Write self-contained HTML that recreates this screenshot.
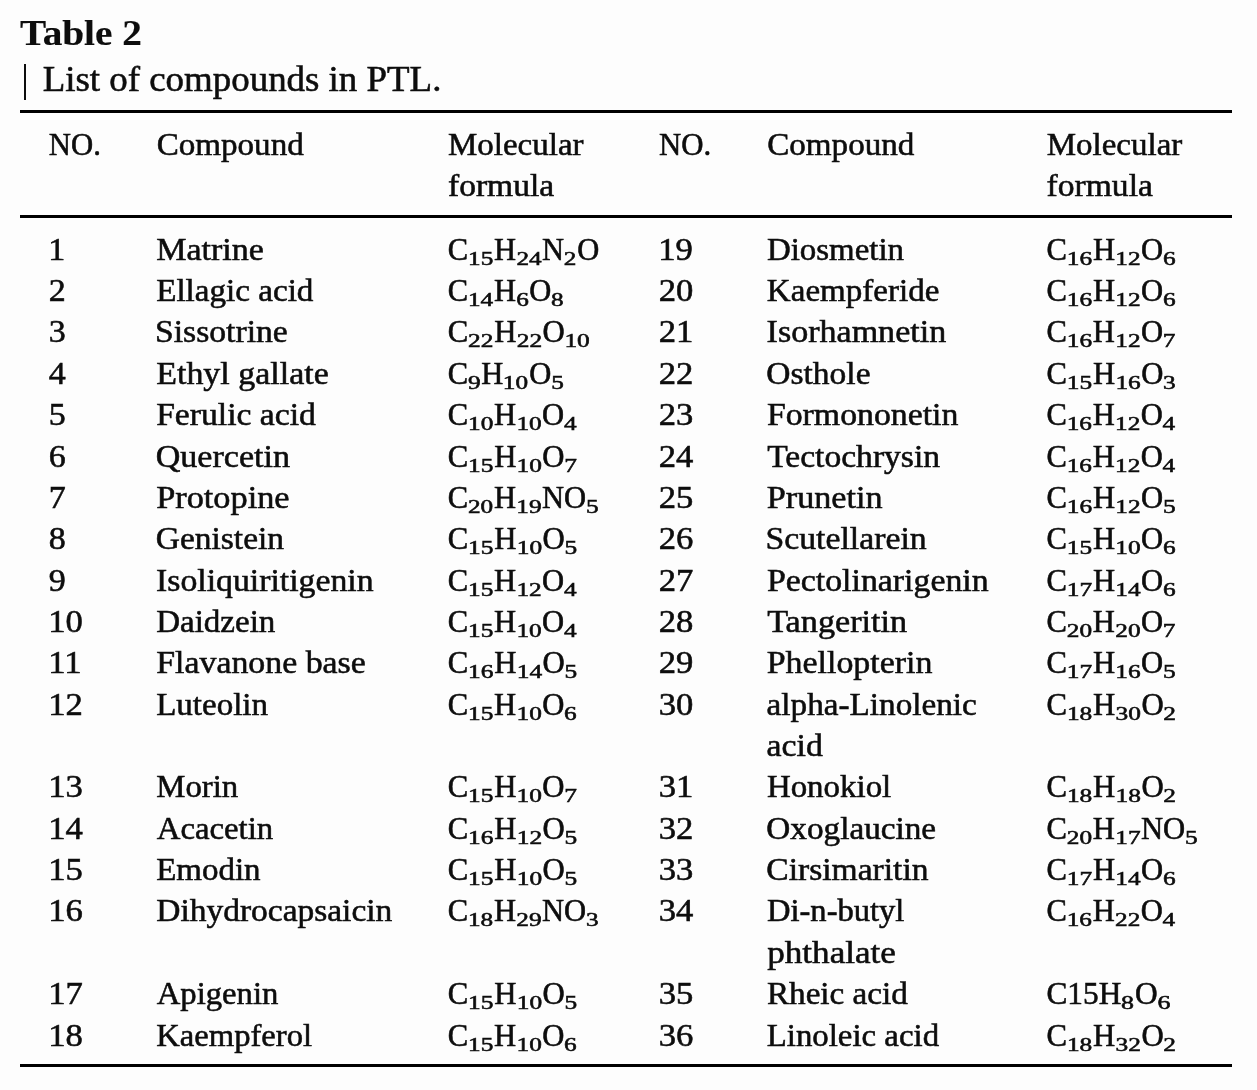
<!DOCTYPE html>
<html lang="en"><head><meta charset="utf-8"><title>Table 2 - List of compounds in PTL</title>
<style>
html,body{margin:0;padding:0;background:#fdfdfc;}
body{filter:grayscale(1);width:1257px;height:1090px;overflow:hidden;position:relative;font-family:"Liberation Serif",serif;color:#0d0d0d;}
.t{display:block;width:max-content;white-space:nowrap;transform-origin:0 50%;-webkit-text-stroke:0.55px #0d0d0d;}
.cap{position:absolute;font-size:35px;line-height:46px;}
.b{font-weight:bold;-webkit-text-stroke:0.15px #0d0d0d;}
#cap1{left:0;top:10.75px;}
#cap2{left:0;top:56.85px;}
#bar{position:absolute;left:24.4px;top:64.2px;width:2.1px;height:35.5px;background:#0d0d0d;}
table{position:absolute;left:20px;top:110px;width:1212px;border-collapse:collapse;table-layout:fixed;
  font-size:31.6px;line-height:41.36px;border-top:3px solid #000;border-bottom:3px solid #000;}
td,th{padding:0;margin:0;vertical-align:top;text-align:left;font-weight:normal;overflow:visible;}
thead th{padding-top:10.55px;padding-bottom:9.23px;border-bottom:3px solid #000;}
tbody tr:first-child td{padding-top:10.25px;}
tbody tr:last-child td{padding-bottom:8.55px;}
sub{display:inline-block;font-size:19.2px;line-height:0;vertical-align:baseline;position:relative;top:5.0px;transform:scaleX(1.36);transform-origin:0 50%;margin-left:-0.2px;}
.s1{margin-right:4.36px;}
.s2{margin-right:7.81px;}
</style></head>
<body>
<span id="cap1" class="t cap b" style="transform:matrix(1.1218,0,0,1,20.07,0)">Table 2</span>
<div id="bar"></div>
<span id="cap2" class="t cap" style="transform:matrix(1.0544,0,0,1,42.63,0)">List of compounds in PTL.</span>
<table>
<colgroup><col style="width:136.5px"><col style="width:291.8px"><col style="width:211.5px"><col style="width:107.3px"><col style="width:279.9px"><col style="width:185.0px"></colgroup>
<thead><tr><th><span id="h1" class="t" style="transform:matrix(0.9722,0,0,1,28.86,0)">NO.</span></th><th><span id="h2" class="t" style="transform:matrix(1.0475,0,0,1,-0.35,0)">Compound</span></th><th><span id="h3a" class="t" style="transform:matrix(1.0442,0,0,1,-0.04,0)">Molecular</span><span id="h3b" class="t" style="transform:matrix(1.0612,0,0,1,0.03,0)">formula</span></th><th><span id="h4" class="t" style="transform:matrix(0.9742,0,0,1,-1.06,0)">NO.</span></th><th><span id="h5" class="t" style="transform:matrix(1.0483,0,0,1,0.19,0)">Compound</span></th><th><span id="h6a" class="t" style="transform:matrix(1.0443,0,0,1,-0.32,0)">Molecular</span><span id="h6b" class="t" style="transform:matrix(1.0628,0,0,1,-0.40,0)">formula</span></th></tr></thead>
<tbody>
<tr><td><span id="r0n1" class="t" style="transform:matrix(1.0759,0,0,1,28.26,0)">1</span></td><td><span id="r0c1" class="t" style="transform:matrix(1.0774,0,0,1,-0.80,0)">Matrine</span></td><td><span id="r0f1" class="t f" style="transform:matrix(0.9663,0,0,1,-0.21,0)">C<sub class="s2">15</sub>H<sub class="s2">24</sub>N<sub class="s1">2</sub>O</span></td><td><span id="r0n2" class="t" style="transform:matrix(1.0970,0,0,1,-1.86,0)">19</span></td><td><span id="r0c2" class="t" style="transform:matrix(1.0423,0,0,1,-0.12,0)">Diosmetin</span></td><td><span id="r0f2" class="t f" style="transform:matrix(0.9702,0,0,1,-0.54,0)">C<sub class="s2">16</sub>H<sub class="s2">12</sub>O<sub class="s1">6</sub></span></td></tr>
<tr><td><span id="r1n1" class="t" style="transform:matrix(1.0759,0,0,1,28.86,0)">2</span></td><td><span id="r1c1" class="t" style="transform:matrix(1.0484,0,0,1,-0.84,0)">Ellagic acid</span></td><td><span id="r1f1" class="t f" style="transform:matrix(0.9656,0,0,1,-0.31,0)">C<sub class="s2">14</sub>H<sub class="s1">6</sub>O<sub class="s1">8</sub></span></td><td><span id="r1n2" class="t" style="transform:matrix(1.0970,0,0,1,-1.27,0)">20</span></td><td><span id="r1c2" class="t" style="transform:matrix(1.0462,0,0,1,-0.13,0)">Kaempferide</span></td><td><span id="r1f2" class="t f" style="transform:matrix(0.9702,0,0,1,-0.54,0)">C<sub class="s2">16</sub>H<sub class="s2">12</sub>O<sub class="s1">6</sub></span></td></tr>
<tr><td><span id="r2n1" class="t" style="transform:matrix(1.0759,0,0,1,28.86,0)">3</span></td><td><span id="r2c1" class="t" style="transform:matrix(1.0656,0,0,1,-2.01,0)">Sissotrine</span></td><td><span id="r2f1" class="t f" style="transform:matrix(0.9729,0,0,1,-0.37,0)">C<sub class="s2">22</sub>H<sub class="s2">22</sub>O<sub class="s2">10</sub></span></td><td><span id="r2n2" class="t" style="transform:matrix(1.0970,0,0,1,-1.27,0)">21</span></td><td><span id="r2c2" class="t" style="transform:matrix(1.0775,0,0,1,-0.43,0)">Isorhamnetin</span></td><td><span id="r2f2" class="t f" style="transform:matrix(0.9686,0,0,1,-0.53,0)">C<sub class="s2">16</sub>H<sub class="s2">12</sub>O<sub class="s1">7</sub></span></td></tr>
<tr><td><span id="r3n1" class="t" style="transform:matrix(1.0759,0,0,1,28.86,0)">4</span></td><td><span id="r3c1" class="t" style="transform:matrix(1.0747,0,0,1,-0.78,0)">Ethyl gallate</span></td><td><span id="r3f1" class="t f" style="transform:matrix(0.9669,0,0,1,-0.32,0)">C<sub class="s1">9</sub>H<sub class="s2">10</sub>O<sub class="s1">5</sub></span></td><td><span id="r3n2" class="t" style="transform:matrix(1.0970,0,0,1,-1.27,0)">22</span></td><td><span id="r3c2" class="t" style="transform:matrix(1.0599,0,0,1,-0.67,0)">Osthole</span></td><td><span id="r3f2" class="t f" style="transform:matrix(0.9711,0,0,1,-0.55,0)">C<sub class="s2">15</sub>H<sub class="s2">16</sub>O<sub class="s1">3</sub></span></td></tr>
<tr><td><span id="r4n1" class="t" style="transform:matrix(1.0759,0,0,1,28.86,0)">5</span></td><td><span id="r4c1" class="t" style="transform:matrix(1.0651,0,0,1,-0.86,0)">Ferulic acid</span></td><td><span id="r4f1" class="t f" style="transform:matrix(0.9685,0,0,1,-0.34,0)">C<sub class="s2">10</sub>H<sub class="s2">10</sub>O<sub class="s1">4</sub></span></td><td><span id="r4n2" class="t" style="transform:matrix(1.0970,0,0,1,-1.27,0)">23</span></td><td><span id="r4c2" class="t" style="transform:matrix(1.0694,0,0,1,-0.06,0)">Formononetin</span></td><td><span id="r4f2" class="t f" style="transform:matrix(0.9666,0,0,1,-0.54,0)">C<sub class="s2">16</sub>H<sub class="s2">12</sub>O<sub class="s1">4</sub></span></td></tr>
<tr><td><span id="r5n1" class="t" style="transform:matrix(1.0759,0,0,1,28.86,0)">6</span></td><td><span id="r5c1" class="t" style="transform:matrix(1.0778,0,0,1,-1.27,0)">Quercetin</span></td><td><span id="r5f1" class="t f" style="transform:matrix(0.9712,0,0,1,-0.36,0)">C<sub class="s2">15</sub>H<sub class="s2">10</sub>O<sub class="s1">7</sub></span></td><td><span id="r5n2" class="t" style="transform:matrix(1.0970,0,0,1,-1.27,0)">24</span></td><td><span id="r5c2" class="t" style="transform:matrix(1.0626,0,0,1,0.14,0)">Tectochrysin</span></td><td><span id="r5f2" class="t f" style="transform:matrix(0.9666,0,0,1,-0.54,0)">C<sub class="s2">16</sub>H<sub class="s2">12</sub>O<sub class="s1">4</sub></span></td></tr>
<tr><td><span id="r6n1" class="t" style="transform:matrix(1.0759,0,0,1,28.86,0)">7</span></td><td><span id="r6c1" class="t" style="transform:matrix(1.0861,0,0,1,-0.86,0)">Protopine</span></td><td><span id="r6f1" class="t f" style="transform:matrix(0.9670,0,0,1,-0.35,0)">C<sub class="s2">20</sub>H<sub class="s2">19</sub>NO<sub class="s1">5</sub></span></td><td><span id="r6n2" class="t" style="transform:matrix(1.0970,0,0,1,-1.27,0)">25</span></td><td><span id="r6c2" class="t" style="transform:matrix(1.0806,0,0,1,-0.19,0)">Prunetin</span></td><td><span id="r6f2" class="t f" style="transform:matrix(0.9706,0,0,1,-0.55,0)">C<sub class="s2">16</sub>H<sub class="s2">12</sub>O<sub class="s1">5</sub></span></td></tr>
<tr><td><span id="r7n1" class="t" style="transform:matrix(1.0759,0,0,1,28.86,0)">8</span></td><td><span id="r7c1" class="t" style="transform:matrix(1.0590,0,0,1,-1.22,0)">Genistein</span></td><td><span id="r7f1" class="t f" style="transform:matrix(0.9731,0,0,1,-0.37,0)">C<sub class="s2">15</sub>H<sub class="s2">10</sub>O<sub class="s1">5</sub></span></td><td><span id="r7n2" class="t" style="transform:matrix(1.0970,0,0,1,-1.27,0)">26</span></td><td><span id="r7c2" class="t" style="transform:matrix(1.0683,0,0,1,-1.52,0)">Scutellarein</span></td><td><span id="r7f2" class="t f" style="transform:matrix(0.9702,0,0,1,-0.54,0)">C<sub class="s2">15</sub>H<sub class="s2">10</sub>O<sub class="s1">6</sub></span></td></tr>
<tr><td><span id="r8n1" class="t" style="transform:matrix(1.0759,0,0,1,28.86,0)">9</span></td><td><span id="r8c1" class="t" style="transform:matrix(1.0682,0,0,1,-0.95,0)">Isoliquiritigenin</span></td><td><span id="r8f1" class="t f" style="transform:matrix(0.9685,0,0,1,-0.34,0)">C<sub class="s2">15</sub>H<sub class="s2">12</sub>O<sub class="s1">4</sub></span></td><td><span id="r8n2" class="t" style="transform:matrix(1.0970,0,0,1,-1.27,0)">27</span></td><td><span id="r8c2" class="t" style="transform:matrix(1.0707,0,0,1,-0.06,0)">Pectolinarigenin</span></td><td><span id="r8f2" class="t f" style="transform:matrix(0.9702,0,0,1,-0.54,0)">C<sub class="s2">17</sub>H<sub class="s2">14</sub>O<sub class="s1">6</sub></span></td></tr>
<tr><td><span id="r9n1" class="t" style="transform:matrix(1.0970,0,0,1,28.13,0)">10</span></td><td><span id="r9c1" class="t" style="transform:matrix(1.0451,0,0,1,-0.81,0)">Daidzein</span></td><td><span id="r9f1" class="t f" style="transform:matrix(0.9685,0,0,1,-0.34,0)">C<sub class="s2">15</sub>H<sub class="s2">10</sub>O<sub class="s1">4</sub></span></td><td><span id="r9n2" class="t" style="transform:matrix(1.0970,0,0,1,-1.27,0)">28</span></td><td><span id="r9c2" class="t" style="transform:matrix(1.0818,0,0,1,0.13,0)">Tangeritin</span></td><td><span id="r9f2" class="t f" style="transform:matrix(0.9686,0,0,1,-0.53,0)">C<sub class="s2">20</sub>H<sub class="s2">20</sub>O<sub class="s1">7</sub></span></td></tr>
<tr><td><span id="r10n1" class="t" style="transform:matrix(1.0970,0,0,1,28.13,0)">11</span></td><td><span id="r10c1" class="t" style="transform:matrix(1.0709,0,0,1,-0.75,0)">Flavanone base</span></td><td><span id="r10f1" class="t f" style="transform:matrix(0.9731,0,0,1,-0.37,0)">C<sub class="s2">16</sub>H<sub class="s2">14</sub>O<sub class="s1">5</sub></span></td><td><span id="r10n2" class="t" style="transform:matrix(1.0970,0,0,1,-1.27,0)">29</span></td><td><span id="r10c2" class="t" style="transform:matrix(1.0735,0,0,1,-0.32,0)">Phellopterin</span></td><td><span id="r10f2" class="t f" style="transform:matrix(0.9706,0,0,1,-0.55,0)">C<sub class="s2">17</sub>H<sub class="s2">16</sub>O<sub class="s1">5</sub></span></td></tr>
<tr><td><span id="r11n1" class="t" style="transform:matrix(1.0970,0,0,1,28.13,0)">12</span></td><td><span id="r11c1" class="t" style="transform:matrix(1.0445,0,0,1,-0.81,0)">Luteolin</span></td><td><span id="r11f1" class="t f" style="transform:matrix(0.9697,0,0,1,-0.36,0)">C<sub class="s2">15</sub>H<sub class="s2">10</sub>O<sub class="s1">6</sub></span></td><td><span id="r11n2" class="t" style="transform:matrix(1.0970,0,0,1,-1.27,0)">30</span></td><td><span id="r11c2" class="t" style="transform:matrix(1.0512,0,0,1,-0.43,0)">alpha-Linolenic</span><span id="r12c2" class="t" style="transform:matrix(1.0695,0,0,1,-0.47,0)">acid</span></td><td><span id="r11f2" class="t f" style="transform:matrix(0.9739,0,0,1,-0.55,0)">C<sub class="s2">18</sub>H<sub class="s2">30</sub>O<sub class="s1">2</sub></span></td></tr>
<tr><td><span id="r13n1" class="t" style="transform:matrix(1.0970,0,0,1,28.14,0)">13</span></td><td><span id="r13c1" class="t" style="transform:matrix(1.0383,0,0,1,-0.75,0)">Morin</span></td><td><span id="r13f1" class="t f" style="transform:matrix(0.9712,0,0,1,-0.36,0)">C<sub class="s2">15</sub>H<sub class="s2">10</sub>O<sub class="s1">7</sub></span></td><td><span id="r13n2" class="t" style="transform:matrix(1.0970,0,0,1,-1.27,0)">31</span></td><td><span id="r13c2" class="t" style="transform:matrix(1.0418,0,0,1,-0.11,0)">Honokiol</span></td><td><span id="r13f2" class="t f" style="transform:matrix(0.9739,0,0,1,-0.55,0)">C<sub class="s2">18</sub>H<sub class="s2">18</sub>O<sub class="s1">2</sub></span></td></tr>
<tr><td><span id="r14n1" class="t" style="transform:matrix(1.0970,0,0,1,28.14,0)">14</span></td><td><span id="r14c1" class="t" style="transform:matrix(1.0368,0,0,1,-0.25,0)">Acacetin</span></td><td><span id="r14f1" class="t f" style="transform:matrix(0.9731,0,0,1,-0.37,0)">C<sub class="s2">16</sub>H<sub class="s2">12</sub>O<sub class="s1">5</sub></span></td><td><span id="r14n2" class="t" style="transform:matrix(1.0970,0,0,1,-1.27,0)">32</span></td><td><span id="r14c2" class="t" style="transform:matrix(1.0516,0,0,1,-0.66,0)">Oxoglaucine</span></td><td><span id="r14f2" class="t f" style="transform:matrix(0.9693,0,0,1,-0.54,0)">C<sub class="s2">20</sub>H<sub class="s2">17</sub>NO<sub class="s1">5</sub></span></td></tr>
<tr><td><span id="r15n1" class="t" style="transform:matrix(1.0970,0,0,1,28.14,0)">15</span></td><td><span id="r15c1" class="t" style="transform:matrix(1.0435,0,0,1,-0.81,0)">Emodin</span></td><td><span id="r15f1" class="t f" style="transform:matrix(0.9731,0,0,1,-0.37,0)">C<sub class="s2">15</sub>H<sub class="s2">10</sub>O<sub class="s1">5</sub></span></td><td><span id="r15n2" class="t" style="transform:matrix(1.0970,0,0,1,-1.27,0)">33</span></td><td><span id="r15c2" class="t" style="transform:matrix(1.0623,0,0,1,-0.67,0)">Cirsimaritin</span></td><td><span id="r15f2" class="t f" style="transform:matrix(0.9702,0,0,1,-0.54,0)">C<sub class="s2">17</sub>H<sub class="s2">14</sub>O<sub class="s1">6</sub></span></td></tr>
<tr><td><span id="r16n1" class="t" style="transform:matrix(1.0970,0,0,1,28.13,0)">16</span></td><td><span id="r16c1" class="t" style="transform:matrix(1.0594,0,0,1,-0.78,0)">Dihydrocapsaicin</span></td><td><span id="r16f1" class="t f" style="transform:matrix(0.9674,0,0,1,-0.35,0)">C<sub class="s2">18</sub>H<sub class="s2">29</sub>NO<sub class="s1">3</sub></span></td><td><span id="r16n2" class="t" style="transform:matrix(1.0970,0,0,1,-1.27,0)">34</span></td><td><span id="r16c2" class="t" style="transform:matrix(1.0306,0,0,1,-0.05,0)">Di-n-butyl</span><span id="r17c2" class="t" style="transform:matrix(1.1121,0,0,1,0.17,0)">phthalate</span></td><td><span id="r16f2" class="t f" style="transform:matrix(0.9666,0,0,1,-0.54,0)">C<sub class="s2">16</sub>H<sub class="s2">22</sub>O<sub class="s1">4</sub></span></td></tr>
<tr><td><span id="r18n1" class="t" style="transform:matrix(1.0970,0,0,1,28.14,0)">17</span></td><td><span id="r18c1" class="t" style="transform:matrix(1.0339,0,0,1,-0.24,0)">Apigenin</span></td><td><span id="r18f1" class="t f" style="transform:matrix(0.9731,0,0,1,-0.37,0)">C<sub class="s2">15</sub>H<sub class="s2">10</sub>O<sub class="s1">5</sub></span></td><td><span id="r18n2" class="t" style="transform:matrix(1.0970,0,0,1,-1.27,0)">35</span></td><td><span id="r18c2" class="t" style="transform:matrix(1.0496,0,0,1,-0.05,0)">Rheic acid</span></td><td><span id="r18f2" class="t f" style="transform:matrix(0.9926,0,0,1,-0.57,0)">C15H<sub class="s1">8</sub>O<sub class="s1">6</sub></span></td></tr>
<tr><td><span id="r19n1" class="t" style="transform:matrix(1.0970,0,0,1,28.13,0)">18</span></td><td><span id="r19c1" class="t" style="transform:matrix(1.0321,0,0,1,-0.70,0)">Kaempferol</span></td><td><span id="r19f1" class="t f" style="transform:matrix(0.9697,0,0,1,-0.36,0)">C<sub class="s2">15</sub>H<sub class="s2">10</sub>O<sub class="s1">6</sub></span></td><td><span id="r19n2" class="t" style="transform:matrix(1.0970,0,0,1,-1.27,0)">36</span></td><td><span id="r19c2" class="t" style="transform:matrix(1.0394,0,0,1,-0.27,0)">Linoleic acid</span></td><td><span id="r19f2" class="t f" style="transform:matrix(0.9739,0,0,1,-0.55,0)">C<sub class="s2">18</sub>H<sub class="s2">32</sub>O<sub class="s1">2</sub></span></td></tr>
</tbody>
</table>
</body></html>
